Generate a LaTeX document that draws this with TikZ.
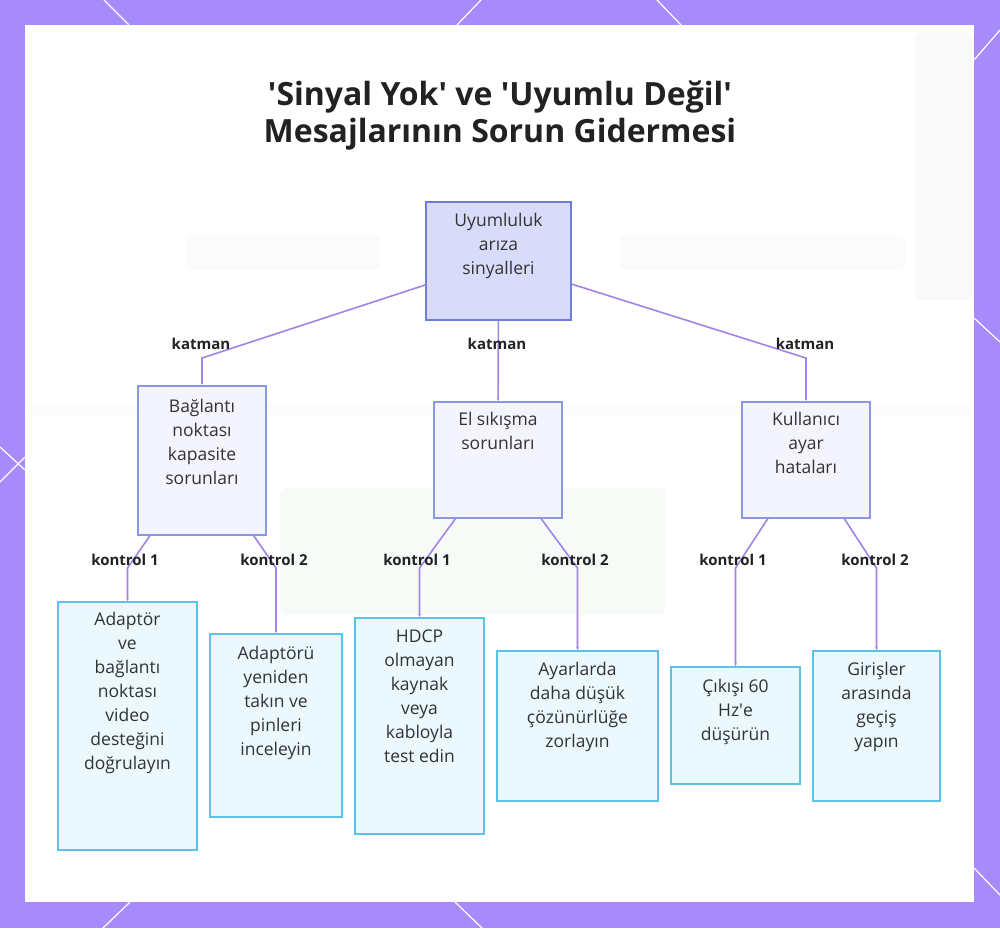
\documentclass[tikz,border=0pt]{standalone}
\usepackage{fontspec}
\setmainfont{Open Sans}
\usetikzlibrary{arrows.meta,positioning}

\definecolor{bgpurple}{HTML}{A78BFA}
\definecolor{rootfill}{HTML}{D8DBFA}
\definecolor{rootline}{HTML}{6B7FD7}
\definecolor{midfill}{HTML}{F3F4FE}
\definecolor{midline}{HTML}{8C97E2}
\definecolor{leaffill}{HTML}{EBF8FE}
\definecolor{leafline}{HTML}{5BC3E6}
\definecolor{edgepurple}{HTML}{A084E8}
\definecolor{textgray}{HTML}{333333}
\definecolor{labelgray}{HTML}{222222}

\begin{document}
\begin{tikzpicture}[
  x=1pt, y=-1pt,
  font=\fontsize{17.5}{24}\selectfont, text=textgray,
  box/.style={draw, line width=1.5pt, inner sep=0pt},
  rootbox/.style={box, draw=rootline, fill=rootfill},
  midbox/.style={box, draw=midline, fill=midfill},
  leafbox/.style={box, draw=leafline, fill=leaffill},
  txt/.style={align=center, inner sep=0pt},
  edge/.style={draw=edgepurple, line width=1.6pt, -{Latex[length=3pt,width=3pt]}},
  lab/.style={font=\bfseries\fontsize{15}{16}\selectfont, text=labelgray, inner sep=0pt},
  deco/.style={draw=white, line width=1.2pt},
  haze/.style={draw=none, rounded corners=6pt},
]
% background and panel
\useasboundingbox (0,0) rectangle (1000,928);
\fill[bgpurple] (0,0) rectangle (1000,928);
\draw[deco] (104,0) -- (129,25);
\draw[deco] (481,0) -- (457,25);
\draw[deco] (657,0) -- (681,25);
\draw[deco] (1000,30) -- (974,60);
\draw[deco] (974,318) -- (1000,342);
\draw[deco] (974,868) -- (1000,895);
\draw[deco] (0,447) -- (25,470);
\draw[deco] (0,482) -- (25,457);
\draw[deco] (103,928) -- (130,902);
\draw[deco] (455,902) -- (482,928);
\fill[white] (25,25) rectangle (974,902);

% faint backdrop
\fill[haze, fill=gray!5] (915,32) rectangle (972,300);
\fill[haze, fill=gray!3] (185,235) rectangle (380,270);
\fill[haze, fill=gray!3] (620,235) rectangle (905,270);
\fill[haze, fill=gray!2, rounded corners=0pt] (30,405) rectangle (972,417);
\fill[haze, fill=green!30!gray!5] (280,488) rectangle (665,615);

% title
\node[txt, font=\bfseries\fontsize{32}{37}\selectfont, text=labelgray] (title) at (500,116)
  {\textquotesingle Sinyal Yok\textquotesingle{} ve \textquotesingle Uyumlu Değil\textquotesingle\\Mesajlarının Sorun Gidermesi};

% boxes
\node[rootbox, minimum width=145pt, minimum height=118pt] (root) at (498.5,261) {};
\node[midbox, minimum width=128pt, minimum height=149pt] (b1) at (202,460.5) {};
\node[midbox, minimum width=128pt, minimum height=116pt] (b2) at (498,460) {};
\node[midbox, minimum width=128pt, minimum height=116pt] (b3) at (806,460) {};
\node[leafbox, minimum width=139pt, minimum height=248pt] (l1) at (127.5,726) {};
\node[leafbox, minimum width=132pt, minimum height=183pt] (l2) at (276,725.5) {};
\node[leafbox, minimum width=129pt, minimum height=216pt] (l3) at (419.5,726) {};
\node[leafbox, minimum width=161pt, minimum height=150pt] (l4) at (577.5,726) {};
\node[leafbox, minimum width=129pt, minimum height=117pt] (l5) at (735.5,725.5) {};
\node[leafbox, minimum width=127pt, minimum height=150pt] (l6) at (876.5,726) {};

% texts
\node[txt, below=12pt of root.north] (roott) {Uyumluluk\\arıza\\sinyalleri};
\node[txt, below=14pt of b1.north] (b1t) {Bağlantı\\noktası\\kapasite\\sorunları};
\node[txt, below=11pt of b2.north] (b2t) {El sıkışma\\sorunları};
\node[txt, below=11pt of b3.north] (b3t) {Kullanıcı\\ayar\\hataları};
\node[txt, below=11pt of l1.north] (l1t) {Adaptör\\ve\\bağlantı\\noktası\\video\\desteğini\\doğrulayın};
\node[txt, below=13pt of l2.north] (l2t) {Adaptörü\\yeniden\\takın ve\\pinleri\\inceleyin};
\node[txt, below=12pt of l3.north] (l3t) {HDCP\\olmayan\\kaynak\\veya\\kabloyla\\test edin};
\node[txt, below=12pt of l4.north] (l4t) {Ayarlarda\\daha düşük\\çözünürlüğe\\zorlayın};
\node[txt, below=13pt of l5.north] (l5t) {Çıkışı 60\\Hz\textquotesingle e\\düşürün};
\node[txt, below=12pt of l6.north] (l6t) {Girişler\\arasında\\geçiş\\yapın};

% bends
\coordinate (k1) at (202,358);
\coordinate (k3) at (806,358);
\coordinate (c1) at (127.5,568);
\coordinate (c2) at (276,568);
\coordinate (c3) at (419.5,568);
\coordinate (c4) at (577.5,568);
\coordinate (c5) at (735.5,568);
\coordinate (c6) at (876.5,568);

% connectors
\draw[edge] (root) -- (k1) -- (b1);
\draw[edge] (root) -- (b2);
\draw[edge] (root) -- (k3) -- (b3);
\draw[edge] (b1) -- (c1) -- (l1);
\draw[edge] (b1) -- (c2) -- (l2);
\draw[edge] (b2) -- (c3) -- (l3);
\draw[edge] (b2) -- (c4) -- (l4);
\draw[edge] (b3) -- (c5) -- (l5);
\draw[edge] (b3) -- (c6) -- (l6);

% labels
\node[lab] (e1) at (201,344) {katman};
\node[lab] (e2) at (497,344) {katman};
\node[lab] (e3) at (805,344) {katman};
\node[lab] (f1) at (125,560) {kontrol 1};
\node[lab] (f2) at (274,560) {kontrol 2};
\node[lab] (f3) at (417,560) {kontrol 1};
\node[lab] (f4) at (575,560) {kontrol 2};
\node[lab] (f5) at (733,560) {kontrol 1};
\node[lab] (f6) at (875,560) {kontrol 2};
\end{tikzpicture}
\end{document}
